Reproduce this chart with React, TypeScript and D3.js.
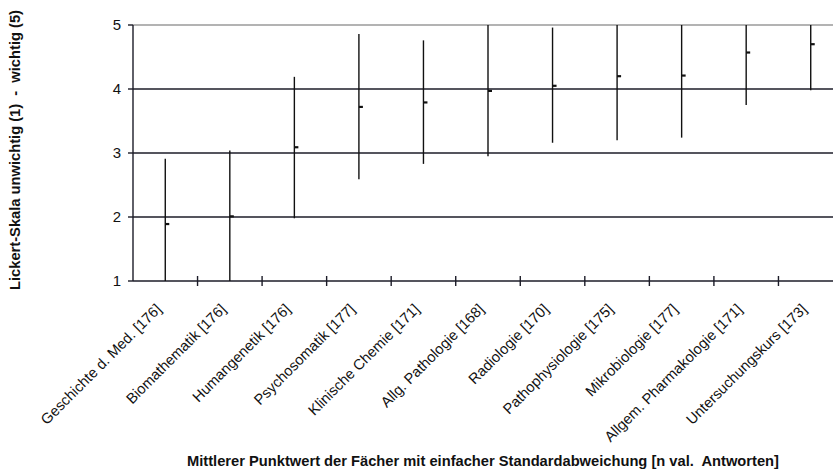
import React from "react";
import * as d3 from "d3";

const categories = [
  "Geschichte d. Med. [176]",
  "Biomathematik [176]",
  "Humangenetik [176]",
  "Psychosomatik [177]",
  "Klinische Chemie [171]",
  "Allg. Pathologie [168]",
  "Radiologie [170]",
  "Pathophysiologie [175]",
  "Mikrobiologie [177]",
  "Allgem. Pharmakologie [171]",
  "Untersuchungskurs [173]",
];
const means = [1.89, 2.01, 3.09, 3.72, 3.79, 3.97, 4.05, 4.2, 4.21, 4.57, 4.7];
const lowers = [1.0, 1.0, 1.98, 2.59, 2.83, 2.95, 3.16, 3.2, 3.24, 3.75, 3.98];
const uppers = [2.91, 3.04, 4.19, 4.86, 4.76, 5.0, 4.96, 5.0, 5.0, 5.0, 5.0];
const yTicks = [1, 2, 3, 4, 5];

const W = 833;
const H = 473;
const font = "'Liberation Sans', Arial, sans-serif";

export default function App() {
  const x = d3.scaleBand<string>().domain(categories).range([133, 843]).padding(0);
  const y = d3.scaleLinear().domain([1, 5]).range([281, 25]);
  const bw = x.bandwidth();
  const line = "#1c1c28";

  return (
    <svg
      width={W}
      height={H}
      style={{ position: "absolute", left: 0, top: 0, background: "#fff" }}
      fontFamily={font}
    >
      {yTicks.map((t) => (
        <line
          key={"g" + t}
          x1={133}
          x2={W}
          y1={y(t)}
          y2={y(t)}
          stroke={t === 5 ? "#9a9a9a" : line}
          strokeWidth={1.4}
        />
      ))}
      <line x1={133} x2={133} y1={y(5)} y2={y(1)} stroke={line} strokeWidth={1.4} />
      {yTicks.map((t) => (
        <g key={"yt" + t}>
          <line x1={128} x2={133} y1={y(t)} y2={y(t)} stroke={line} strokeWidth={1.4} />
          <text x={121} y={y(t)} dy="0.36em" textAnchor="end" fontSize={15} fill="#111">
            {t}
          </text>
        </g>
      ))}
      {categories.map((c, i) =>
        i === 0 ? null : (
          <line
            key={"xt" + i}
            x1={x(c)!}
            x2={x(c)!}
            y1={y(1) - 5}
            y2={y(1) + 5}
            stroke={line}
            strokeWidth={1.4}
          />
        )
      )}
      {categories.map((c, i) => {
        const cx = x(c)! + bw / 2;
        return (
          <g key={"e" + i}>
            <line x1={cx} x2={cx} y1={y(lowers[i])} y2={y(uppers[i])} stroke="#111" strokeWidth={1.4} />
            <line x1={cx} x2={cx + 4} y1={y(means[i])} y2={y(means[i])} stroke="#111" strokeWidth={2.2} />
          </g>
        );
      })}
      {categories.map((c, i) => {
        const cx = x(c)! + bw / 2 - 3;
        const cy = 310;
        return (
          <text
            key={"l" + i}
            x={cx}
            y={cy}
            transform={`rotate(-45, ${cx}, ${cy})`}
            textAnchor="end"
            fontSize={14.7}
            fill="#111"
          >
            {c}
          </text>
        );
      })}
      <text
        x={0}
        y={0}
        transform={`translate(20, 150) rotate(-90)`}
        textAnchor="middle"
        fontSize={14.7}
        fontWeight="bold"
        fill="#111"
        style={{ whiteSpace: "pre" }}
      >
        {"Lickert-Skala unwichtig (1)  -  wichtig (5)"}
      </text>
      <text
        x={483}
        y={466}
        textAnchor="middle"
        fontSize={14.7}
        fontWeight="bold"
        fill="#111"
        style={{ whiteSpace: "pre" }}
      >
        {"Mittlerer Punktwert der Fächer mit einfacher Standardabweichung [n val.  Antworten]"}
      </text>
    </svg>
  );
}
